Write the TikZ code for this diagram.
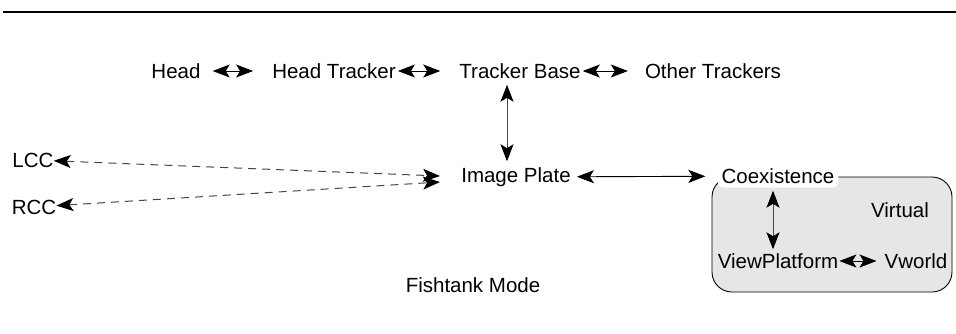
\documentclass[tikz,border=0pt]{standalone}
\usepackage{fontspec}
\setmainfont{Liberation Sans}
\usepackage{tikz}
\usetikzlibrary{arrows.meta,positioning,calc}
\definecolor{BoxGray}{HTML}{E6E6E6}
\definecolor{LineGray}{HTML}{454545}

\begin{document}
\begin{tikzpicture}[x=1pt,y=-1pt,
    lbl/.style={inner sep=0pt,font=\fontsize{20.5}{24}\selectfont},
    >={Stealth[length=17pt,width=13pt,inset=4pt,color=black]},
    link/.style={<->,line width=0.9pt},
    dashlink/.style={<->,line width=1pt,draw=LineGray,dash pattern=on 8pt off 6pt}]
  \useasboundingbox (0,0) rectangle (956,333);
  \draw[line width=2pt] (3,12) -- (956,12);

  \node[lbl] (head) at (176,71) {Head};
  \node[lbl] (htrack) at (334,71) {Head Tracker};
  \node[lbl] (tbase) at (520,71) {Tracker Base};
  \node[lbl] (others) at (713,71) {Other Trackers};
  \node[lbl] (iplate) at (516,177) {Image Plate};
  \node[lbl] (lcc) at (33,160) {LCC};
  \node[lbl] (rcc) at (34,207) {RCC};
  \coordinate (lccend) at (440,176);
  \coordinate (rccend) at (440,182);

  \fill[BoxGray,rounded corners=20pt] (712,177) rectangle (952,292);
  \draw[line width=0.9pt,rounded corners=20pt] (712,177) rectangle (952,292);
  \node[lbl,fill=white,rounded corners=6pt,inner sep=4pt] (coex) at (778,176) {Coexistence};
  \node[lbl] (virtual) at (900,210) {Virtual};
  \node[lbl] (vplat) at (778,261) {ViewPlatform};
  \node[lbl] (vworld) at (916,261) {Vworld};
  \node[lbl] (mode) at (473,285) {Fishtank Mode};

  \draw[link,shorten <=12pt,shorten >=19pt] (head) -- (htrack);
  \draw[link,shorten <=2pt,shorten >=19pt] (htrack) -- (tbase);
  \draw[link,shorten <=2pt,shorten >=17pt] (tbase) -- (others);
  \draw[link,draw=LineGray,shorten <=6pt,shorten >=6pt] ([xshift=-13pt]tbase.south) -- ([xshift=-9pt]iplate.north);
  \draw[link,shorten <=6pt,shorten >=12pt] (iplate) -- (coex);
  \draw[link,draw=LineGray,shorten <=3pt,shorten >=4pt] ([xshift=-5pt]coex.south) -- ([xshift=-5pt]vplat.north);
  \draw[link,shorten <=1pt,shorten >=8pt] (vplat) -- (vworld);
  \draw[dashlink] (lcc) -- (lccend);
  \draw[dashlink] (rcc) -- (rccend);
\end{tikzpicture}
\end{document}
